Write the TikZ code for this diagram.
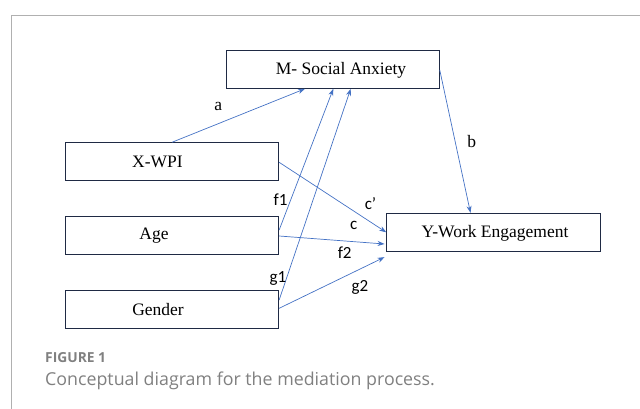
\documentclass[tikz,border=0pt]{standalone}
\usepackage{fontspec}
\setmainfont{Liberation Serif}
\newfontfamily\lblfont{Carlito}
\newfontfamily\capfont{Open Sans}
\usetikzlibrary{arrows.meta,calc}
\definecolor{arrowblue}{HTML}{4472C4}
\definecolor{boxline}{HTML}{1F2A44}
\definecolor{framegrey}{HTML}{B0B0B0}
\definecolor{capgrey}{HTML}{808080}
\tikzset{
  varbox/.style={draw=boxline, line width=0.9pt, rectangle, inner sep=0pt},
  boxtext/.style={font=\fontsize{17.5}{20}\selectfont, inner sep=0pt, anchor=center},
  path arrow/.style={draw=arrowblue, line width=0.7pt, -{Stealth[length=7pt,width=5pt]}},
  coef/.style={font=\lblfont\fontsize{17}{19}\selectfont, inner sep=0pt, anchor=center},
  coefserif/.style={font=\fontsize{17.5}{20}\selectfont, inner sep=0pt, anchor=center},
}
\begin{document}
\begin{tikzpicture}[x=1pt,y=-1pt]
\useasboundingbox (0,0) rectangle (640,409);
% frame
\draw[framegrey, line width=0.8pt] (11,409) -- (11,15) -- (640,15);
% boxes
\node[varbox, minimum width=212.6pt, minimum height=38.3pt] (m) at (333,69.2) {};
\node[varbox, minimum width=213pt, minimum height=37.3pt] (x) at (172.2,161.3) {};
\node[varbox, minimum width=213pt, minimum height=37.6pt] (age) at (172.2,235.5) {};
\node[varbox, minimum width=213pt, minimum height=38pt] (gen) at (172.2,309) {};
\node[varbox, minimum width=213.6pt, minimum height=38pt] (y) at (493.5,232.3) {};
% box texts
\node[boxtext] (mt) at (341,70) {M- Social Anxiety};
\node[boxtext] (xt) at (157.5,162) {X-WPI};
\node[boxtext] (aget) at (154,236) {Age};
\node[boxtext] (gent) at (158,310) {Gender};
\node[boxtext] (yt) at (495,233) {Y-Work Engagement};
% connectors
\path[path arrow] (x.north) -- ([xshift=-28pt]m.south);
\path[path arrow] ([yshift=5.5pt]age.east) -- ([xshift=0.3pt]m.south);
\path[path arrow] ([yshift=9pt]gen.east) -- ([xshift=17.7pt]m.south);
\path[path arrow] ([yshift=-0.8pt]m.east) -- ([xshift=-23pt]y.north);
\path[path arrow] ([yshift=-1pt]x.east) -- (y.west);
\path[path arrow] ([yshift=-0.5pt]age.east) -- ([xshift=-1.7pt,yshift=-11.7pt]y.west);
\path[path arrow] ([yshift=0.7pt]gen.east) -- ([xshift=-1.7pt,yshift=-5.4pt]y.south west);
% coefficient labels
\node[coefserif] (la) at (218.3,106) {a};
\node[coefserif] (lb) at (471.7,142) {b};
\node[coef] (lcp) at (370.5,204) {c’};
\node[coef] (lc) at (353.7,225.5) {c};
\node[coef] (lf2) at (344.7,252.5) {f2};
\node[coef] (lf1) at (280.5,200) {f1};
\node[coef] (lg1) at (278,278) {g1};
\node[coef] (lg2) at (360,287) {g2};
% caption
\node[font=\capfont\bfseries\fontsize{13.8}{16}\selectfont, text=capgrey, anchor=west, inner sep=0pt] (fig) at (45,357.7) {FIGURE 1};
\node[font=\capfont\fontsize{17.8}{20}\selectfont, text=capgrey, anchor=west, inner sep=0pt] (cap) at (45,381) {Conceptual diagram for the mediation process.};
\end{tikzpicture}
\end{document}
